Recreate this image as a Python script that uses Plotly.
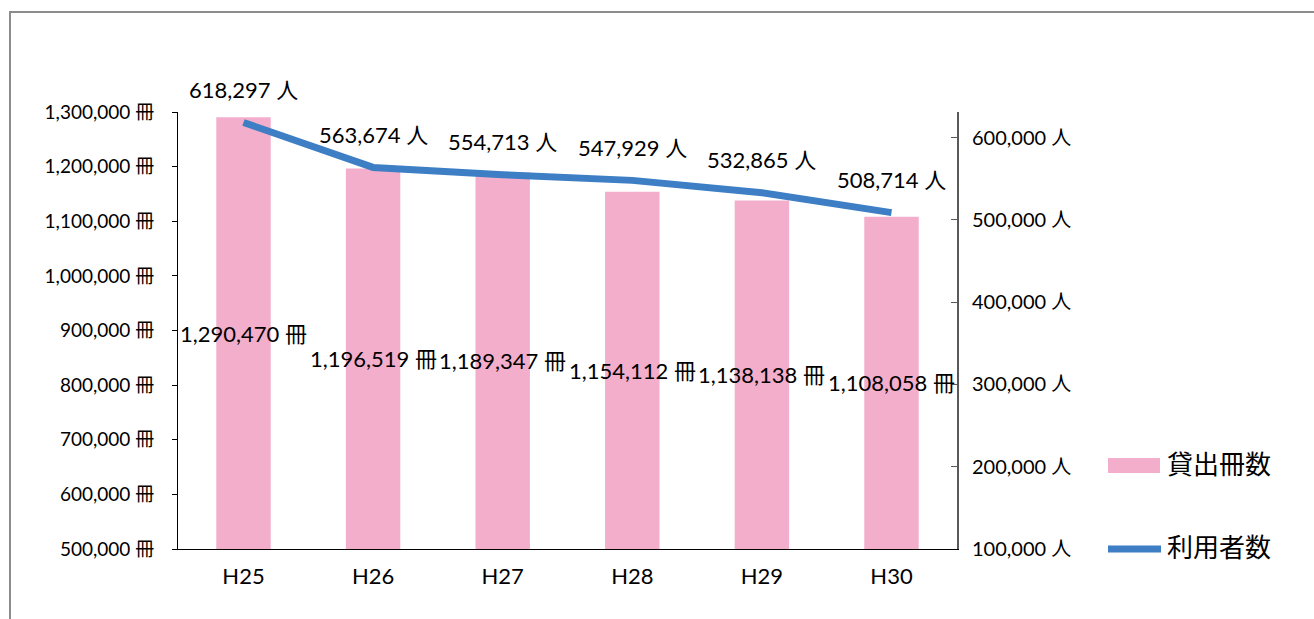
import plotly.graph_objects as go

# 年度別の貸出冊数と利用者数
years = ["H25", "H26", "H27", "H28", "H29", "H30"]
loans = [1290470, 1196519, 1189347, 1154112, 1138138, 1108058]   # 貸出冊数 (冊)
users = [618297, 563674, 554713, 547929, 532865, 508714]         # 利用者数 (人)

left_ticks = [500000, 600000, 700000, 800000, 900000, 1000000, 1100000, 1200000, 1300000]
right_ticks = [100000, 200000, 300000, 400000, 500000, 600000]

BAR_COLOR = "#F3AECB"
LINE_COLOR = "#3D7EC4"
FONT = "Lato, 'Noto Sans CJK JP', sans-serif"
CJK = "'Noto Sans CJK JP', sans-serif"

W, H = 1314, 619
L, R, T, B = 178, 357, 112, 70
PW, PH = W - L - R, H - T - B


def px(x):
    return (x - L) / PW


def py(y):
    return (H - B - y) / PH


fig = go.Figure()
fig.add_trace(go.Bar(
    x=years, y=loans, name="貸出冊数", marker_color=BAR_COLOR,
    marker_line_width=0, yaxis="y", showlegend=False,
))
fig.add_trace(go.Scatter(
    x=years, y=users, name="利用者数", mode="lines",
    line=dict(color=LINE_COLOR, width=7), yaxis="y2", showlegend=False,
))

annotations = []
# 貸出冊数ラベル: 棒の中ほどに表示
for yr, v in zip(years, loans):
    annotations.append(dict(
        x=yr, y=(left_ticks[0] + v) / 2, xref="x", yref="y",
        text=f"{v:,} 冊", showarrow=False,
        font=dict(family=FONT, size=22, color="#000000"),
    ))
# 利用者数ラベル: 線の上に表示
for yr, v in zip(years, users):
    annotations.append(dict(
        x=yr, y=v, xref="x", yref="y2", yshift=33,
        text=f"{v:,} 人", showarrow=False,
        font=dict(family=FONT, size=22, color="#000000"),
    ))

# 凡例
annotations.append(dict(
    x=px(1165), y=py(466), xref="paper", yref="paper", xanchor="left", yshift=-17,
    text="貸出冊数", showarrow=False, font=dict(family=CJK, size=26, color="#000000"),
))
annotations.append(dict(
    x=px(1165), y=py(549), xref="paper", yref="paper", xanchor="left", yshift=-17,
    text="利用者数", showarrow=False, font=dict(family=CJK, size=26, color="#000000"),
))

shapes = [
    # 外枠
    dict(type="rect", xref="paper", yref="paper",
         x0=px(10), x1=px(1330), y0=py(640), y1=py(12),
         line=dict(color="#8C8C8C", width=2), fillcolor="rgba(0,0,0,0)", layer="below"),
    # 凡例キー
    dict(type="rect", xref="paper", yref="paper",
         x0=px(1108), x1=px(1160), y0=py(473), y1=py(458),
         line=dict(width=0), fillcolor=BAR_COLOR),
    dict(type="line", xref="paper", yref="paper",
         x0=px(1108), x1=px(1161), y0=py(549), y1=py(549),
         line=dict(color=LINE_COLOR, width=7)),
]

fig.update_layout(
    width=W, height=H,
    margin=dict(l=L, r=R, t=T, b=B),
    paper_bgcolor="white", plot_bgcolor="white",
    bargap=0.58,
    font=dict(family=FONT, color="#000000"),
    xaxis=dict(
        showline=True, linecolor="#000000", linewidth=1, ticks="",
        tickfont=dict(family=FONT, size=22), ticklabelstandoff=8,
        showgrid=False, zeroline=False,
    ),
    yaxis=dict(
        range=[500000, 1300000], tickvals=left_ticks,
        ticktext=[f"{v:,} 冊" for v in left_ticks],
        showline=True, linecolor="#000000", linewidth=1,
        ticks="outside", ticklen=5, tickcolor="#000000",
        tickfont=dict(family=FONT, size=19), ticklabelstandoff=14,
        showgrid=False, zeroline=False,
    ),
    yaxis2=dict(
        range=[100000, 631000], overlaying="y", side="right",
        tickvals=right_ticks, ticktext=[f"{v:,} 人" for v in right_ticks],
        showline=True, linecolor="#595959", linewidth=2,
        ticks="inside", ticklen=6, tickcolor="#595959",
        tickfont=dict(family=FONT, size=20), ticklabelstandoff=9,
        showgrid=False, zeroline=False,
    ),
    annotations=annotations,
    shapes=shapes,
)

fig.write_html("out.html")
